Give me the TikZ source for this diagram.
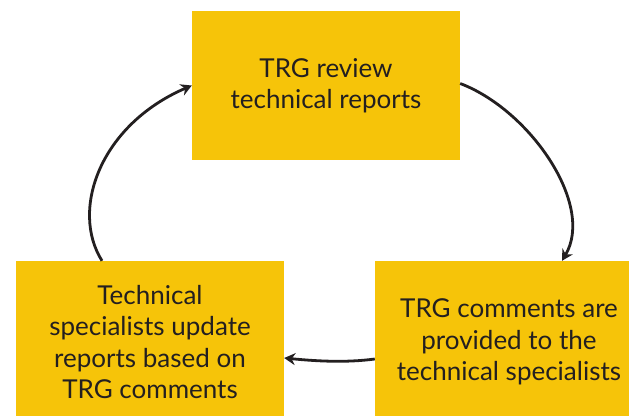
\documentclass[tikz,border=0pt]{standalone}
\usepackage{fontspec}
\setmainfont{Lato}
\usepackage{tikz}
\usetikzlibrary{arrows.meta}
\definecolor{trgyellow}{HTML}{F6C409}
\definecolor{trgink}{HTML}{231F20}

\begin{document}
\begin{tikzpicture}[x=1pt, y=-1pt,
  stage/.style={fill=trgyellow, draw=none, inner sep=0pt, minimum width=268pt,
    align=center, text=trgink, font=\fontsize{26}{31.5}\selectfont},
  flow/.style={draw=trgink, line width=2.8pt, -{Stealth[length=11pt, width=12pt]}}]
 \useasboundingbox[fill=white] (0,0) rectangle (629,415);
 \node[name=review, stage, minimum height=149pt] at (326,85.5) {TRG review\\technical reports};
 \node[name=provide, stage, minimum height=162pt] at (509,342) {TRG comments are\\provided to the\\technical specialists};
 \node[name=update, stage, minimum height=162pt] at (150,342) {Technical\\specialists update\\reports based on\\TRG comments};

 \draw[flow] ([yshift=2pt]review.east) .. controls (530,110) and (595,205) .. ([xshift=53pt]provide.north);
 \draw[flow] ([yshift=-17pt]provide.west) .. controls (345,363) and (315,361) .. ([yshift=-16pt]update.east);
 \draw[flow] ([xshift=-48pt]update.north) .. controls (70,210) and (100,125) .. ([yshift=0pt]review.west);
\end{tikzpicture}
\end{document}
